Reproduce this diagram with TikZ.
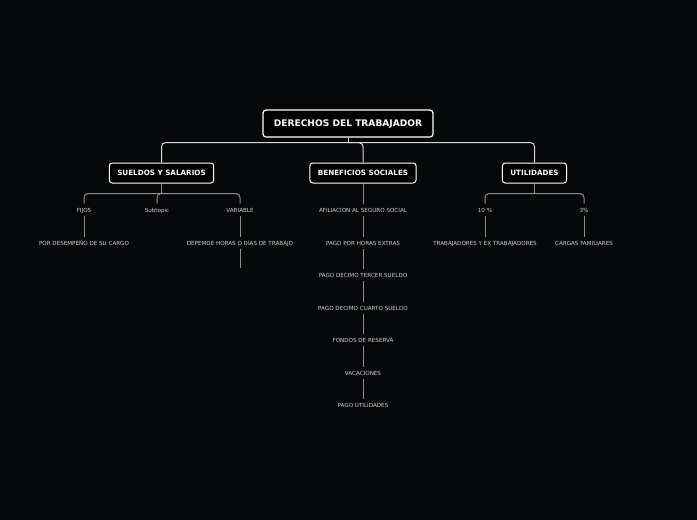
\documentclass[tikz,border=0pt]{standalone}
\usepackage{fontspec}
\setmainfont{DejaVu Sans}
\definecolor{bgdark}{HTML}{060709}
\definecolor{leafgray}{HTML}{D2D2D2}
\definecolor{linelight}{HTML}{D8D8D8}
\definecolor{linegray}{HTML}{8C8C8C}

\begin{document}
\begin{tikzpicture}[
  x=1pt, y=-1pt,
  rootbox/.style={draw=white, fill=black, line width=1.2pt, rounded corners=3pt,
                  text=white, font=\fontsize{9.1}{11}\selectfont\bfseries,
                  minimum width=170pt, minimum height=27pt,
                  text height=6.7pt, text depth=0pt},
  topic/.style={draw=white, fill=black, line width=1pt, rounded corners=3pt,
                text=white, font=\fontsize{7.2}{8}\selectfont\bfseries,
                minimum height=20pt, inner xsep=8pt,
                text height=5.3pt, text depth=0pt},
  leaf/.style={text=leafgray, font=\fontsize{5.6}{7}\selectfont, inner xsep=2pt,
               inner ysep=4pt, text height=4.5pt, text depth=0pt},
  mainline/.style={draw=linelight, line width=1pt, rounded corners=4pt},
  subline/.style={draw=linegray, line width=1pt, rounded corners=4pt}
]
\fill[bgdark] (0,0) rectangle (697,520);

\node[rootbox] (root) at (348,123.5) {DERECHOS DEL TRABAJADOR};
\node[topic] (sueldos) at (161.5,173) {SUELDOS Y SALARIOS};
\node[topic] (beneficios) at (363,173) {BENEFICIOS SOCIALES};
\node[topic] (utilidades) at (534.5,173) {UTILIDADES};

% sueldos y salarios
\node[leaf] (fijos) at (84,210) {FIJOS};
\node[leaf] (subtopic) at (157,210) {Subtopic};
\node[leaf] (variable) at (240,210) {VARIABLE};
\node[leaf] (desempeno) at (84,243) {POR DESEMPEÑO DE SU CARGO};
\node[leaf] (depende) at (240,243) {DEPEMDE HORAS O DÍAS DE TRABAJO};
\coordinate (dependeend) at (240,268);

% beneficios sociales
\node[leaf] (afiliacion) at (363,210) {AFILIACION AL SEGURO SOCIAL};
\node[leaf] (horas) at (363,243) {PAGO POR HORAS EXTRAS};
\node[leaf] (tercero) at (363,275) {PAGO DECIMO TERCER SUELDO};
\node[leaf] (cuarto) at (363,308) {PAGO DECIMO CUARTO SUELDO};
\node[leaf] (fondos) at (363,340) {FONDOS DE RESERVA};
\node[leaf] (vacaciones) at (363,373) {VACACIONES};
\node[leaf] (pagoutil) at (363,405) {PAGO UTILIDADES};

% utilidades
\node[leaf] (diezpct) at (485,210) {10 \%};
\node[leaf] (trespct) at (584,210) {3\%};
\node[leaf] (trabajadores) at (485,243) {TRABAJADORES Y EX TRABAJADORES};
\node[leaf] (cargas) at (584,243) {CARGAS FAMILIARES};

\draw[mainline] (root.south) -- ++(0,5) coordinate (rootjoin);
\draw[mainline] (rootjoin) -| (sueldos.north);
\draw[mainline] (rootjoin) -| (beneficios.north);
\draw[mainline] (rootjoin) -| (utilidades.north);

\draw[subline] (sueldos.south) -- ++(0,10) coordinate (sueldosjoin);
\draw[subline] (sueldosjoin) -| (fijos.north);
\draw[subline] (sueldosjoin) -| (subtopic.north);
\draw[subline] (sueldosjoin) -| (variable.north);
\draw[subline] (fijos) -- (desempeno);
\draw[subline] (variable) -- (depende);
\draw[subline] (depende) -- (dependeend);

\draw[subline] (beneficios) -- (afiliacion);
\draw[subline] (afiliacion) -- (horas);
\draw[subline] (horas) -- (tercero);
\draw[subline] (tercero) -- (cuarto);
\draw[subline] (cuarto) -- (fondos);
\draw[subline] (fondos) -- (vacaciones);
\draw[subline] (vacaciones) -- (pagoutil);

\draw[subline] (utilidades.south) -- ++(0,10) coordinate (utiljoin);
\draw[subline] (utiljoin) -| (diezpct.north);
\draw[subline] (utiljoin) -| (trespct.north);
\draw[subline] (diezpct) -- (trabajadores);
\draw[subline] (trespct) -- (cargas);
\end{tikzpicture}
\end{document}
